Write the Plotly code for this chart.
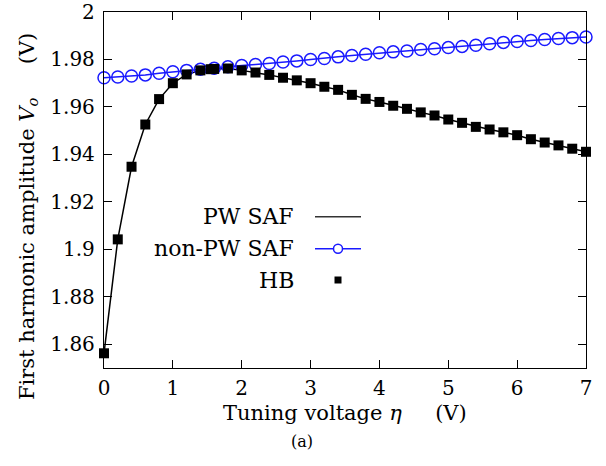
import plotly.graph_objects as go

# ---- data ----
eta_nonpw = [round(0.2 * i, 1) for i in range(36)]
vo_nonpw = [1.9723, 1.9726, 1.9730, 1.9735, 1.9742, 1.9748, 1.9754, 1.9759,
            1.9763, 1.9769, 1.9775, 1.9779, 1.9783, 1.9789, 1.9794, 1.9800,
            1.9804, 1.9811, 1.9817, 1.9822, 1.9828, 1.9832, 1.9836, 1.9842,
            1.9845, 1.9850, 1.9855, 1.9860, 1.9866, 1.9872, 1.9876, 1.9880,
            1.9884, 1.9888, 1.9892, 1.9895]

eta_hb = [0.0, 0.2, 0.4, 0.6, 0.8, 1.0, 1.2, 1.4, 1.55, 1.6, 1.8, 2.0, 2.2, 2.4,
          2.6, 2.8, 3.0, 3.2, 3.4, 3.6, 3.8, 4.0, 4.2, 4.4, 4.6, 4.8, 5.0, 5.2,
          5.4, 5.6, 5.8, 6.0, 6.2, 6.4, 6.6, 6.8, 7.0]
vo_hb = [1.8562, 1.9042, 1.9348, 1.9526, 1.9633, 1.9700, 1.9737, 1.9754,
         1.9759, 1.9760, 1.9762, 1.9754, 1.9745, 1.9735, 1.9723, 1.9712,
         1.9700, 1.9685, 1.9672, 1.9651, 1.9634, 1.9621, 1.9605, 1.9592,
         1.9577, 1.9564, 1.9547, 1.9533, 1.9516, 1.9505, 1.9493, 1.9481,
         1.9464, 1.9450, 1.9438, 1.9424, 1.9411]

eta_pw = eta_hb
vo_pw = vo_hb

x_ticks = [0, 1, 2, 3, 4, 5, 6, 7]
y_ticks = [1.86, 1.88, 1.90, 1.92, 1.94, 1.96, 1.98, 2.00]
y_ticktext = ["1.86", "1.88", "1.9", "1.92", "1.94", "1.96", "1.98", "2"]

legend_names = ["PW SAF", "non-PW SAF", "HB"]

FONT = "DejaVu Serif"
BLUE = "#1a1aff"

fig = go.Figure()
fig.add_trace(go.Scatter(x=eta_pw, y=vo_pw, mode="lines",
                         line=dict(color="black", width=1.5),
                         name=legend_names[0], cliponaxis=False))
fig.add_trace(go.Scatter(x=eta_nonpw, y=vo_nonpw, mode="lines+markers",
                         line=dict(color=BLUE, width=1.5),
                         marker=dict(symbol="circle-open", size=12,
                                     color=BLUE, line=dict(width=1.5, color=BLUE)),
                         name=legend_names[1], cliponaxis=False))
fig.add_trace(go.Scatter(x=eta_hb, y=vo_hb, mode="markers",
                         marker=dict(symbol="square", size=10, color="black"),
                         name=legend_names[2], cliponaxis=False))

# plot area in pixels: x 104..586, y 12..368
L, R, T, B = 104, 586, 12, 368
W, H = R - L, B - T


def px(xp):
    return (xp - L) / W


def py(yp):
    return (B - yp) / H


annotations = []
shapes = []
rows = [216.7, 248.7, 280.0]
for name, yr in zip(legend_names, rows):
    annotations.append(dict(x=px(296), y=py(yr), xref="paper", yref="paper",
                            text=name, showarrow=False, xanchor="right",
                            yanchor="middle",
                            font=dict(family=FONT, size=22, color="black")))
shapes.append(dict(type="line", xref="paper", yref="paper",
                   x0=px(315), x1=px(361), y0=py(rows[0]), y1=py(rows[0]),
                   line=dict(color="#333333", width=1.5)))
shapes.append(dict(type="line", xref="paper", yref="paper",
                   x0=px(315), x1=px(361), y0=py(rows[1]), y1=py(rows[1]),
                   line=dict(color=BLUE, width=1.5)))
shapes.append(dict(type="circle", xref="paper", yref="paper",
                   xsizemode="pixel", ysizemode="pixel",
                   xanchor=px(338), yanchor=py(rows[1]),
                   x0=-4.5, x1=4.5, y0=-4.5, y1=4.5,
                   fillcolor="white", line=dict(color=BLUE, width=1.5)))
shapes.append(dict(type="rect", xref="paper", yref="paper",
                   xsizemode="pixel", ysizemode="pixel",
                   xanchor=px(338), yanchor=py(rows[2]),
                   x0=-3.5, x1=3.5, y0=-3.5, y1=3.5,
                   fillcolor="black", line=dict(color="black", width=0)))

annotations.append(dict(x=px(344.5), y=py(413), xref="paper", yref="paper",
                        text="Tuning voltage <i>η</i>\u00a0\u00a0\u00a0\u00a0\u00a0(V)",
                        showarrow=False, xanchor="center", yanchor="middle",
                        font=dict(family=FONT, size=21, color="black")))
annotations.append(dict(x=px(301.7), y=py(441.7), xref="paper", yref="paper",
                        text="(a)", showarrow=False, xanchor="center",
                        yanchor="middle",
                        font=dict(family=FONT, size=16, color="black")))
annotations.append(dict(x=px(28), y=py(217), xref="paper", yref="paper",
                        text="First harmonic amplitude <i>V<sub>o</sub></i>\u00a0\u00a0\u00a0\u00a0\u00a0(V)",
                        showarrow=False, xanchor="center", yanchor="middle",
                        textangle=-90,
                        font=dict(family=FONT, size=21, color="black")))

axis_common = dict(showgrid=False, zeroline=False, showline=True,
                   linecolor="black", linewidth=1.3, mirror="ticks",
                   ticks="inside", ticklen=8, tickwidth=1.2, tickcolor="black",
                   automargin=False,
                   tickfont=dict(family=FONT, size=20, color="black"))

fig.update_layout(
    width=606, height=466,
    margin=dict(l=L, r=606 - R, t=T, b=466 - B),
    paper_bgcolor="white", plot_bgcolor="white",
    showlegend=False,
    font=dict(family=FONT),
    xaxis=dict(range=[0, 7], tickvals=x_ticks, ticklabelstandoff=2, **axis_common),
    yaxis=dict(range=[1.85, 2.0], tickvals=y_ticks, ticktext=y_ticktext,
               ticklabelstandoff=4, **axis_common),
    annotations=annotations, shapes=shapes,
)

fig.write_html("out.html", config={"displayModeBar": False},
               post_script="document.body.style.margin='0';")
